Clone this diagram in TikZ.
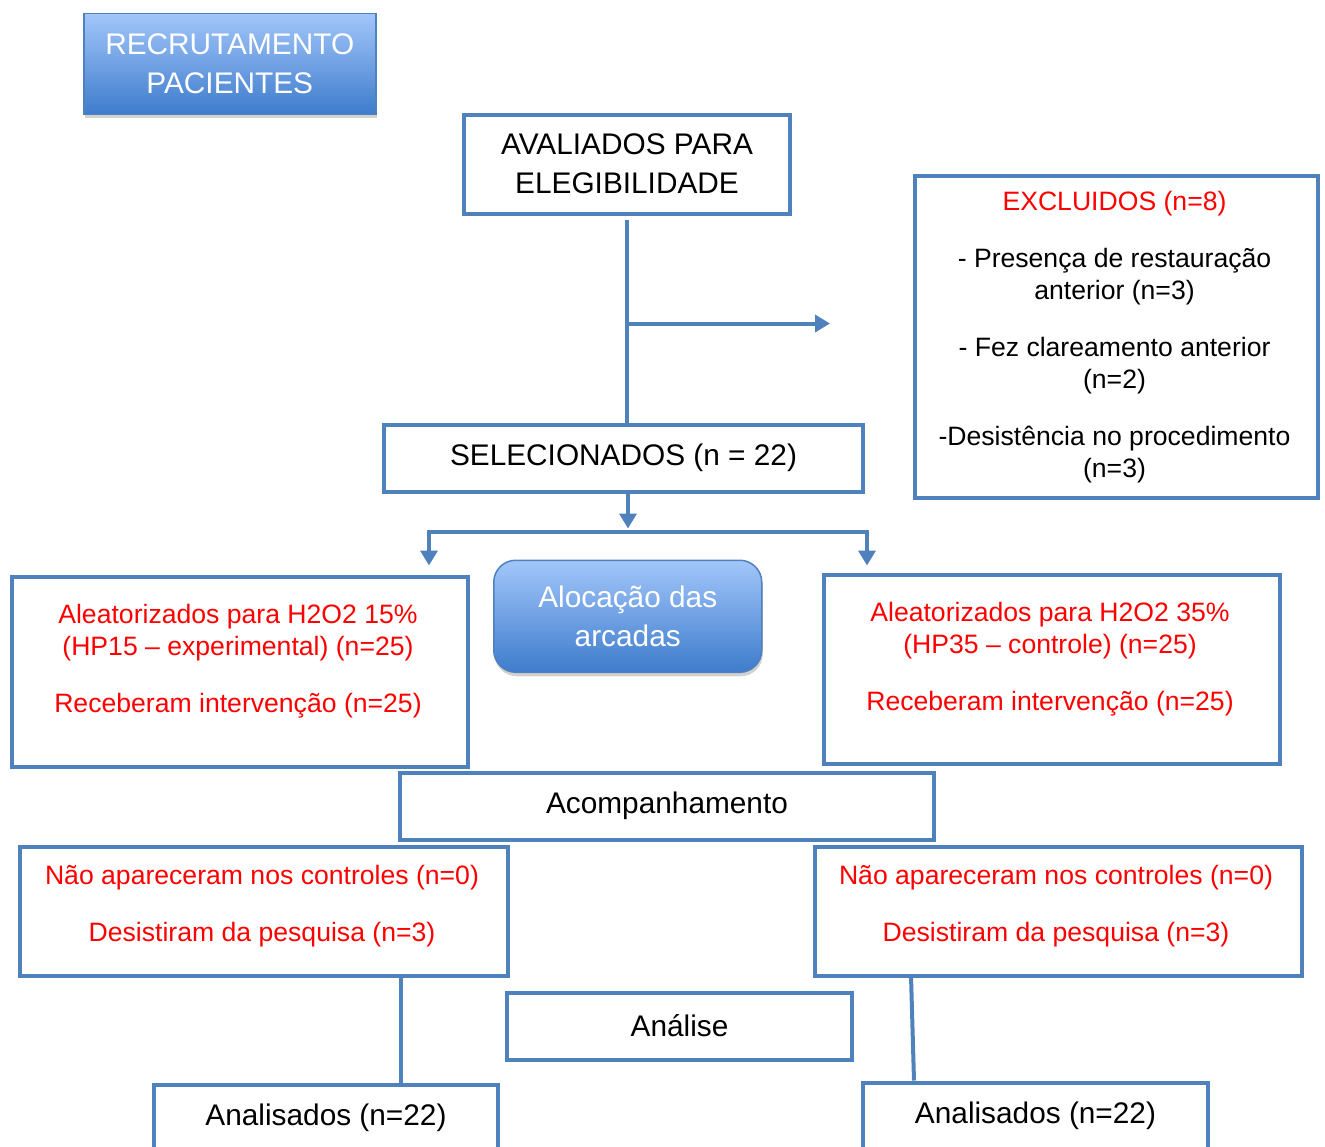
\documentclass[tikz,border=0pt]{standalone}
\usepackage{fontspec}
\setmainfont{Liberation Sans}
\usetikzlibrary{arrows.meta,shadows}
\definecolor{lineblue}{RGB}{79,129,189}
\definecolor{gradtop}{RGB}{162,198,250}
\definecolor{gradbot}{RGB}{62,124,204}
\definecolor{redtxt}{RGB}{255,0,0}
\newcommand\fsblk{\fontsize{29.8}{39}\selectfont}
\newcommand\fsred{\fontsize{26.6}{32}\selectfont}
\tikzset{
  box/.style={draw=lineblue, line width=4pt, fill=white, inner sep=0pt, align=center, font=\fsblk, anchor=north west},
  gbox/.style={draw=lineblue, line width=1.5pt, top color=gradtop, bottom color=gradbot, text=white, inner sep=0pt, align=center, font=\fsblk, anchor=north west,
    drop shadow={shadow xshift=1pt, shadow yshift=-4pt, opacity=0.3, fill=black!60}},
  rtext/.style={align=center, font=\fsred, text=redtxt, inner sep=0pt},
  conn/.style={draw=lineblue, line width=4pt},
  arr/.style={conn, -{Triangle[width=17pt,length=15pt]}},
  darr/.style={conn, {Triangle[width=17pt,length=15pt]}-{Triangle[width=17pt,length=15pt]}},
}
\begin{document}
\begin{tikzpicture}[x=1pt,y=-1pt]
\useasboundingbox (0,0) rectangle (1325,1146);
\clip (0,0) rectangle (1325,1146);
\begin{scope}[shift={(-2,-1.5)}]
% gradient boxes
\node[gbox, minimum width=292, minimum height=101] (recr) at (85,14) {RECRUTAMENTO\\PACIENTES};
\node[gbox, rounded corners=22pt, minimum width=268, minimum height=112] (aloc) at (495,561) {Alocação das\\arcadas};
% main boxes
\node[box, minimum width=326, minimum height=99] (aval) at (464,114) {AVALIADOS PARA\\ELEGIBILIDADE};
\node[box, minimum width=403, minimum height=322] (excl) at (915,175) {};
\node[rtext, text=black] (exclt) at (1116.5,338.5) {\textcolor{redtxt}{EXCLUIDOS (n=8)}\\[25pt]- Presença de restauração\\anterior (n=3)\\[25pt]- Fez clareamento anterior\\(n=2)\\[25pt]-Desistência no procedimento\\(n=3)};
\node[box, minimum width=479, minimum height=67] (sel) at (384,424) {SELECIONADOS (n = 22)};
\node[box, minimum width=456, minimum height=190] (grpL) at (12,576) {};
\node[rtext] (grpLt) at (240,663) {Aleatorizados para H2O2 15\%\\(HP15 – experimental) (n=25)\\[25pt]Receberam intervenção (n=25)};
\node[box, minimum width=456, minimum height=189] (grpR) at (824,574) {};
\node[rtext] (grpRt) at (1052,661) {Aleatorizados para H2O2 35\%\\(HP35 – controle) (n=25)\\[25pt]Receberam intervenção (n=25)};
\node[box, minimum width=534, minimum height=67] (acomp) at (400,772) {Acompanhamento};
\node[box, minimum width=488, minimum height=129] (naoL) at (20,846) {};
\node[rtext] (naoLt) at (264,908) {Não apareceram nos controles (n=0)\\[25pt]Desistiram da pesquisa (n=3)};
\node[box, minimum width=487, minimum height=129] (naoR) at (815,846) {};
\node[rtext] (naoRt) at (1058,908) {Não apareceram nos controles (n=0)\\[25pt]Desistiram da pesquisa (n=3)};
\node[box, minimum width=345, minimum height=67] (anal) at (507,992) {Análise};
\node[box, minimum width=344, minimum height=67] (resL) at (154,1084) {Analisados (n=22)};
\node[box, minimum width=345, minimum height=67] (resR) at (863,1082) {Analisados (n=22)};
% connectors
\coordinate (branch) at (629,325);
\coordinate (exclTip) at (832,325);
\draw[conn] ([yshift=-4pt]aval.south) -- (aval.south |- sel.north);
\draw[arr] (branch) -- (exclTip);
\coordinate (selOut) at (630,491);
\coordinate (selTip) at (630,530);
\draw[arr] (selOut) -- (selTip);
\coordinate (tipL) at (431,567);
\coordinate (tipR) at (869,567);
\coordinate (barMid) at (630,533);
\draw[darr] (tipL) |- (barMid) -| (tipR);
\coordinate (lineL) at (403,977);
\draw[conn] (lineL) -- (lineL |- resL.north);
\coordinate (lineRtop) at (913,977);
\coordinate (lineRbot) at (916,1082);
\draw[conn] (lineRtop) -- (lineRbot);
\end{scope}
\end{tikzpicture}
\end{document}
